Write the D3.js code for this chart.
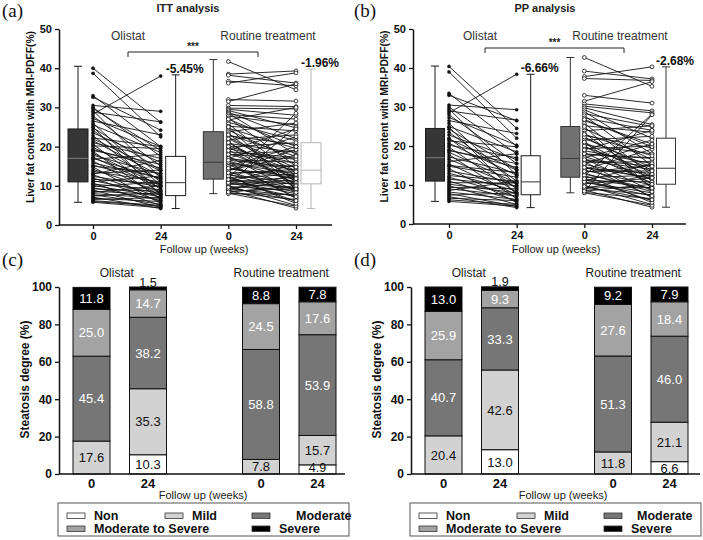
<!DOCTYPE html>
<html><head><meta charset="utf-8">
<script src="https://cdn.jsdelivr.net/npm/d3@7"></script>
<style>body{margin:0;background:#fff}svg{display:block}text{font-family:"Liberation Sans",Arial,sans-serif}</style>
</head><body>
<svg id="chart" width="703" height="540"></svg>
<script>
// ---------------- DATA ----------------
const groups = ["Olistat", "Routine treatment"];
const weekLabels = ["0", "24", "0", "24"];
const yTicksTop = [0, 10, 20, 30, 40, 50];
const yTicksBar = [0, 20, 40, 60, 80, 100];

// paired [baseline, week 24] liver fat (%)
const ittOlistat = [[40.0,26.2],[38.7,22.5],[33.0,20.0],[32.6,24.2],[30.5,29.0],[30.0,17.5],[29.7,19.0],[29.2,12.0],[28.8,26.3],[28.3,38.0],[27.8,15.0],[27.2,20.0],[26.5,23.0],[26.0,10.0],[25.5,18.5],[24.8,14.0],[24.2,11.0],[23.5,16.0],[22.8,9.0],[22.2,20.0],[21.5,12.5],[21.0,17.0],[20.6,8.0],[20.2,19.5],[19.8,11.5],[19.3,14.5],[18.8,6.5],[18.3,10.0],[17.8,13.0],[17.3,9.5],[16.8,18.0],[16.3,7.5],[15.8,12.0],[15.3,10.5],[14.8,5.5],[14.2,8.5],[13.7,11.0],[13.2,14.0],[12.8,7.0],[12.4,9.8],[12.0,6.0],[11.7,10.5],[11.3,8.0],[11.0,12.5],[10.7,5.0],[10.4,9.0],[10.1,7.2],[9.8,11.0],[9.5,6.3],[9.2,8.6],[8.9,4.5],[8.6,7.8],[8.3,10.0],[8.0,6.8],[7.7,5.3],[7.4,8.2],[7.1,4.2],[6.8,6.0],[6.5,7.0],[6.2,5.0],[6.0,4.8],[5.8,4.4],[13.0,16.5],[17.0,11.8],[22.0,13.8],[25.0,7.6],[19.0,15.5],[15.0,13.2]];
const ittRoutine = [[41.7,34.5],[38.5,39.3],[38.2,36.2],[36.7,35.5],[36.2,38.8],[32.0,31.6],[31.5,36.0],[30.5,30.2],[29.8,29.6],[29.5,28.0],[29.2,24.8],[28.8,22.0],[28.5,18.0],[28.2,27.0],[27.8,25.5],[27.3,15.0],[26.8,30.0],[26.2,21.5],[25.8,12.5],[25.2,24.0],[24.7,19.5],[24.2,16.5],[23.8,26.0],[23.3,11.0],[22.8,20.5],[22.3,14.5],[21.8,23.0],[21.3,9.5],[20.8,18.5],[20.3,13.5],[19.9,21.0],[19.5,15.8],[19.1,10.5],[18.7,17.2],[18.3,12.0],[17.9,19.0],[17.5,8.5],[17.1,14.0],[16.7,16.0],[16.3,11.5],[15.9,13.0],[15.5,7.0],[15.1,15.0],[14.7,10.0],[14.3,12.5],[13.9,17.8],[13.5,9.0],[13.1,14.2],[12.7,11.0],[12.3,6.0],[11.9,13.0],[11.5,10.5],[11.2,8.0],[10.9,12.2],[10.6,9.5],[10.3,11.5],[10.0,5.0],[9.8,8.8],[9.5,10.8],[9.2,7.5],[8.9,4.3],[8.6,9.3],[8.3,6.5],[8.1,4.8],[8.0,7.8],[12.0,28.5],[10.5,25.0],[15.0,20.0],[20.0,10.2],[25.0,9.0],[22.0,13.8],[18.0,16.8],[14.0,19.2],[11.0,15.5],[9.0,12.8],[16.0,6.8],[13.0,8.3],[17.0,22.5],[19.0,24.5],[21.0,12.0],[23.0,17.5],[27.0,20.0],[12.5,5.5],[10.8,7.2],[14.5,11.8],[16.5,14.8],[9.6,6.2],[8.4,10.0],[11.6,9.2],[13.3,13.6]];
const ppOlistat = [[40.4,24.5],[39.0,22.0],[33.5,20.0],[33.0,26.5],[30.5,29.3],[30.0,18.0],[29.5,12.5],[29.0,26.6],[28.5,38.4],[28.0,15.5],[27.3,20.2],[26.5,23.2],[25.8,10.0],[25.0,18.5],[24.3,14.0],[23.5,11.0],[22.8,16.5],[22.0,9.0],[21.3,19.8],[20.7,12.5],[20.2,17.0],[19.7,8.0],[19.0,14.5],[18.4,10.5],[17.8,6.5],[17.2,13.0],[16.6,9.5],[16.0,18.0],[15.4,7.5],[14.8,12.0],[14.2,5.5],[13.6,10.5],[13.0,8.5],[12.4,11.0],[12.0,7.0],[11.5,9.8],[11.0,6.0],[10.6,10.5],[10.2,8.0],[9.8,5.0],[9.4,9.0],[9.0,7.2],[8.6,11.0],[8.2,6.3],[7.8,4.5],[7.4,8.0],[7.0,4.2],[6.6,6.0],[6.2,5.0],[5.8,4.6],[21.8,13.8],[24.8,7.6],[18.8,15.5],[15.0,13.2]];
const ppRoutine = [[42.7,35.3],[39.2,37.2],[37.8,40.3],[37.3,36.8],[33.0,31.0],[31.5,36.5],[30.8,29.0],[30.2,28.5],[29.8,25.5],[29.3,22.0],[28.8,18.0],[28.3,25.0],[27.8,15.0],[27.2,24.0],[26.5,20.5],[25.8,12.5],[25.2,23.5],[24.5,16.5],[23.9,25.2],[23.3,11.0],[22.7,19.5],[22.0,14.5],[21.5,22.5],[20.9,9.5],[20.3,18.0],[19.8,13.5],[19.3,20.0],[18.8,15.5],[18.3,10.5],[17.8,17.0],[17.3,12.0],[16.8,8.5],[16.3,14.0],[15.8,16.0],[15.3,11.5],[14.8,7.0],[14.3,13.0],[13.8,10.0],[13.3,15.0],[12.8,9.0],[12.3,28.2],[11.9,12.5],[11.5,6.0],[11.1,10.8],[10.7,8.0],[10.3,11.8],[9.9,5.0],[9.5,9.3],[9.1,7.5],[8.7,4.3],[8.4,10.2],[8.1,6.5],[8.0,4.8],[20.0,10.2],[25.0,9.0],[22.3,13.8],[18.0,16.8],[14.0,19.2],[11.0,15.5],[9.0,12.8],[16.0,6.8],[13.0,8.3],[17.0,21.5],[19.0,24.0],[21.0,12.0],[23.0,17.5],[26.8,19.8],[12.5,5.5],[10.8,7.2],[14.5,11.8],[16.5,14.8],[9.6,6.2],[8.4,28.0],[11.6,9.2],[13.5,13.6],[15.5,20.5]];

// box stats: [min, q1, median, q3, max] for Olistat 0, Olistat 24, Routine 0, Routine 24
const ittBoxes = [[5.8,11.0,17.0,24.5,40.5],[4.2,7.5,10.8,17.5,38.3],[8.0,11.7,16.0,23.8,42.2],[4.2,10.5,14.0,21.0,39.8]];
const ppBoxes  = [[5.8,11.0,17.0,24.5,40.5],[4.2,7.5,10.8,17.5,38.4],[8.0,12.0,16.8,25.0,42.7],[4.3,10.2,14.3,22.0,40.3]];
const ittChange = ["-5.45%", "-1.96%"];
const ppChange  = ["-6.66%", "-2.68%"];

// steatosis degree (%) : Olistat 0, Olistat 24, Routine 0, Routine 24
const degrees = ["Non", "Mild", "Moderate", "Moderate to Severe", "Severe"];
const ittDegree = [[0,17.6,45.4,25.0,11.8],[10.3,35.3,38.2,14.7,1.5],[0,7.8,58.8,24.5,8.8],[4.9,15.7,53.9,17.6,7.8]];
const ppDegree  = [[0,20.4,40.7,25.9,13.0],[13.0,42.6,33.3,9.3,1.9],[0,11.8,51.3,27.6,9.2],[6.6,21.1,46.0,18.4,7.9]];

// ---------------- DRAW ----------------
const svg = d3.select("#chart");
const keys4 = ["O0","O24","R0","R24"];

function panelLabel(x, y, t) {
  svg.append("text").attr("x", x).attr("y", y).text(t)
    .style("font-family", "'Liberation Serif','Times New Roman',serif").style("font-size", "19px").attr("fill", "#111");
}

function drawPaired(cfg, olistat, routine, boxes, change, title) {
  const g = svg.append("g");
  const y = d3.scaleLinear().domain([0, 50]).range([cfg.yBot, cfg.yTop]);
  const x = d3.scalePoint().domain(keys4).range([cfg.cols0, cfg.cols3]);

  g.append("text").attr("x", cfg.titleX).attr("y", 12).attr("text-anchor", "middle")
    .style("font-weight", "bold").style("font-size", "11px").attr("fill", "#222").text(title);
  g.append("text").attr("x", cfg.g1X).attr("y", 40).attr("text-anchor", "middle")
    .style("font-size", "12px").attr("fill", "#333").text(groups[0]);
  g.append("text").attr("x", cfg.g2X).attr("y", 40).attr("text-anchor", "middle")
    .style("font-size", "12px").attr("fill", "#333").text(groups[1]);

  g.append("path").attr("d", `M${cfg.brL},${cfg.brY + 5}V${cfg.brY}H${cfg.brR}V${cfg.brY + 5}`)
    .attr("fill", "none").attr("stroke", "#222").attr("stroke-width", 1);
  g.append("text").attr("x", (cfg.brL + cfg.brR) / 2).attr("y", cfg.brY - 2).attr("text-anchor", "middle")
    .style("font-weight", "bold").style("font-size", "10px").attr("fill", "#222").text("***");

  const boxFill = ["#363636", "#ffffff", "#717171", "#ffffff"];
  const medCol = ["#7a7a7a", "#333", "#3a3a3a", cfg.lastStroke];
  const boxStroke = ["#1a1a1a", "#1a1a1a", "#333", cfg.lastStroke];
  const centers = keys4.map((k, i) => x(k) + (i % 2 === 0 ? -cfg.boxOff : cfg.boxOff));
  boxes.forEach((b, i) => {
    const cx = centers[i], w = cfg.boxW;
    const col = boxStroke[i];
    g.append("line").attr("x1", cx).attr("x2", cx).attr("y1", y(b[0])).attr("y2", y(b[1])).attr("stroke", col);
    g.append("line").attr("x1", cx).attr("x2", cx).attr("y1", y(b[3])).attr("y2", y(b[4])).attr("stroke", col);
    g.append("line").attr("x1", cx - 4).attr("x2", cx + 4).attr("y1", y(b[0])).attr("y2", y(b[0])).attr("stroke", col);
    g.append("line").attr("x1", cx - 4).attr("x2", cx + 4).attr("y1", y(b[4])).attr("y2", y(b[4])).attr("stroke", col);
    g.append("rect").attr("x", cx - w / 2).attr("width", w).attr("y", y(b[3])).attr("height", y(b[1]) - y(b[3]))
      .attr("fill", boxFill[i]).attr("stroke", col).attr("stroke-width", 1);
    g.append("line").attr("x1", cx - w / 2).attr("x2", cx + w / 2).attr("y1", y(b[2])).attr("y2", y(b[2]))
      .attr("stroke", medCol[i]).attr("stroke-width", 1);
  });

  [1, 3].forEach((bi, j) => {
    g.append("text").attr("x", centers[bi] - 10).attr("y", y(boxes[bi][4]) - 2)
      .style("font-weight", "bold").style("font-size", "12px").attr("fill", "#111").text(change[j]);
  });

  function pairs(data, k0, k1, hollow) {
    const pg = g.append("g");
    pg.selectAll("line").data(data).join("line")
      .attr("x1", x(k0)).attr("x2", x(k1))
      .attr("y1", d => y(d[0])).attr("y2", d => y(d[1]))
      .attr("stroke", "#141414").attr("stroke-width", 0.9);
    [0, 1].forEach(j => {
      pg.selectAll(null).data(data).join("circle")
        .attr("cx", j ? x(k1) : x(k0)).attr("cy", d => y(d[j]))
        .attr("r", hollow ? 1.9 : 1.6)
        .attr("fill", hollow ? "#fff" : "#111").attr("stroke", "#111").attr("stroke-width", hollow ? 0.8 : 0.4);
    });
  }
  pairs(olistat, "O0", "O24", false);
  pairs(routine, "R0", "R24", true);

  const ya = g.append("g").attr("transform", `translate(${cfg.axisX},0)`)
    .call(d3.axisLeft(y).tickValues(yTicksTop).tickSize(4).tickSizeOuter(0));
  ya.select(".domain").attr("stroke", "#111").attr("stroke-width", 1.5);
  ya.selectAll(".tick line").attr("stroke", "#111").attr("stroke-width", 1.3);
  ya.selectAll("text").style("font-weight", "bold").style("font-size", "11px").attr("fill", "#111");

  const xa = g.append("g").attr("transform", `translate(0,${cfg.yBot})`)
    .call(d3.axisBottom(x).tickFormat((k, i) => weekLabels[i]).tickSize(4).tickSizeOuter(0));
  xa.select(".domain").remove();
  xa.selectAll(".tick line").attr("stroke", "#111").attr("stroke-width", 1.3);
  xa.selectAll("text").style("font-weight", "bold").style("font-size", "11px").attr("fill", "#111");
  g.append("line").attr("x1", cfg.axisX).attr("x2", cfg.xEnd).attr("y1", cfg.yBot).attr("y2", cfg.yBot)
    .attr("stroke", "#111").attr("stroke-width", 1.5);

  g.append("text").attr("transform", `translate(${cfg.axisX - 25},${(cfg.yTop + cfg.yBot) / 2 - 10}) rotate(-90)`)
    .attr("text-anchor", "middle").attr("textLength", 172).attr("lengthAdjust", "spacingAndGlyphs")
    .style("font-weight", "bold").style("font-size", "11px").attr("fill", "#111")
    .text("Liver fat content with MRI-PDFF(%)");
  g.append("text").attr("x", cfg.fuX).attr("y", 253).attr("text-anchor", "middle")
    .style("font-size", "11px").attr("fill", "#222").text("Follow up (weeks)");
}

const colors = {"Non": "#ffffff", "Mild": "#d2d2d2", "Moderate": "#767676", "Moderate to Severe": "#a3a3a3", "Severe": "#000000"};
const textCol = {"Non": "#111", "Mild": "#111", "Moderate": "#fff", "Moderate to Severe": "#fff", "Severe": "#fff"};

function drawBars(cfg, deg) {
  const g = svg.append("g");
  const y = d3.scaleLinear().domain([0, 100]).range([cfg.yBot, cfg.yTop]);
  const x = d3.scalePoint().domain(["O0","O24","gap","R0","R24"]).range([cfg.c0, cfg.c4]);
  const rows = deg.map((v, i) => { const o = {key: keys4[i]}; degrees.forEach((d, j) => o[d] = v[j]); return o; });
  const series = d3.stack().keys(degrees)(rows);
  const w = cfg.barW;

  series.forEach(s => {
    s.forEach(d => {
      const v = d[1] - d[0];
      if (v <= 0) return;
      const cx = x(d.data.key);
      g.append("rect").attr("x", cx - w / 2).attr("width", w)
        .attr("y", y(d[1])).attr("height", y(d[0]) - y(d[1]))
        .attr("fill", colors[s.key]).attr("stroke", "#111").attr("stroke-width", 1);
    });
  });
  series.forEach(s => {
    s.forEach(d => {
      const v = d[1] - d[0];
      if (v <= 0) return;
      const cx = x(d.data.key);
      const small = v < 3;
      const tight = v < 6 ? 2 : 0;
      g.append("text").attr("x", cx).attr("y", small ? y(d[1]) - 5 : (y(d[0]) + y(d[1])) / 2 - tight)
        .attr("dy", "0.36em").attr("text-anchor", "middle")
        .style("font-size", tight ? "12.5px" : "13px").attr("fill", small ? "#111" : textCol[s.key]).text(v.toFixed(1));
    });
  });

  const ya = g.append("g").attr("transform", `translate(${cfg.axisX},0)`)
    .call(d3.axisLeft(y).tickValues(yTicksBar).tickSize(4).tickSizeOuter(0));
  ya.select(".domain").attr("stroke", "#111").attr("stroke-width", 1.5);
  ya.selectAll(".tick line").attr("stroke", "#111").attr("stroke-width", 1.3);
  ya.selectAll("text").style("font-weight", "bold").style("font-size", "12px").attr("fill", "#111");
  g.append("line").attr("x1", cfg.axisX).attr("x2", cfg.xEnd).attr("y1", cfg.yBot).attr("y2", cfg.yBot)
    .attr("stroke", "#111").attr("stroke-width", 1.5);
  keys4.forEach((k, i) => {
    g.append("text").attr("x", x(k)).attr("y", 488).attr("text-anchor", "middle")
      .style("font-weight", "bold").style("font-size", "13px").attr("fill", "#111").text(weekLabels[i]);
  });
  g.append("text").attr("x", cfg.fuX).attr("y", 499).attr("text-anchor", "middle")
    .style("font-size", "11px").attr("fill", "#222").text("Follow up (weeks)");
  g.append("text").attr("transform", `translate(${cfg.axisX - 30},${(cfg.yTop + cfg.yBot) / 2 - 1}) rotate(-90)`)
    .attr("text-anchor", "middle").style("font-weight", "bold").style("font-size", "12px").attr("fill", "#111")
    .text("Steatosis degree (%)");
  g.append("text").attr("x", (x("O0") + x("O24")) / 2 - 3).attr("y", 277).attr("text-anchor", "middle")
    .style("font-size", "12px").attr("fill", "#222").text(groups[0]);
  g.append("text").attr("x", (x("R0") + x("R24")) / 2 - 8).attr("y", 277).attr("text-anchor", "middle")
    .style("font-size", "12px").attr("fill", "#222").text(groups[1]);

  // legend
  const L = g.append("g").attr("transform", `translate(${cfg.legX},503)`);
  L.append("rect").attr("x", 0).attr("y", 0).attr("width", cfg.legW).attr("height", 33)
    .attr("fill", "#fff").attr("stroke", "#555").attr("stroke-width", 1);
  const items = [
    {k: "Non", sx: 9, tx: 36, row: 0},
    {k: "Mild", sx: 107, tx: 134, row: 0},
    {k: "Moderate", sx: 194, tx: cfg.modTx, row: 0},
    {k: "Moderate to Severe", sx: 9, tx: 36, row: 1},
    {k: "Severe", sx: 194, tx: 221, row: 1}
  ];
  items.forEach(it => {
    const yy = it.row ? 23 : 10;
    L.append("rect").attr("x", it.sx).attr("y", yy).attr("width", 18).attr("height", 5.5)
      .attr("fill", colors[it.k]).attr("stroke", "#333").attr("stroke-width", 0.8);
    L.append("text").attr("x", it.tx).attr("y", yy + 6.5).style("font-weight", "bold").style("font-size", "12.5px")
      .attr("fill", "#111").text(it.k);
  });
}

panelLabel(2, 17, "(a)");
panelLabel(354, 17, "(b)");
panelLabel(2, 266, "(c)");
panelLabel(354, 266, "(d)");

drawPaired({axisX: 59, xEnd: 332, yTop: 29, yBot: 225, cols0: 93, cols3: 296, boxOff: 15, boxW: 20,
  titleX: 188, g1X: 128, g2X: 268, brL: 128, brR: 258, brY: 52, fuX: 204, lastStroke: "#b5b5b5"},
  ittOlistat, ittRoutine, ittBoxes, ittChange, "ITT analysis");
drawPaired({axisX: 413, xEnd: 686, yTop: 29, yBot: 224, cols0: 449, cols3: 652, boxOff: 14, boxW: 19,
  titleX: 545, g1X: 480, g2X: 620, brL: 485, brR: 624, brY: 48, fuX: 556, lastStroke: "#333"},
  ppOlistat, ppRoutine, ppBoxes, ppChange, "PP analysis");

drawBars({axisX: 59, xEnd: 345, yTop: 287, yBot: 474, c0: 91.5, c4: 317.5, barW: 37, fuX: 203, legX: 58, legW: 291, modTx: 238}, ittDegree);
drawBars({axisX: 411, xEnd: 700, yTop: 287, yBot: 474, c0: 443.5, c4: 669.5, barW: 37, fuX: 563, legX: 410, legW: 291, modTx: 227}, ppDegree);
</script>
</body></html>
